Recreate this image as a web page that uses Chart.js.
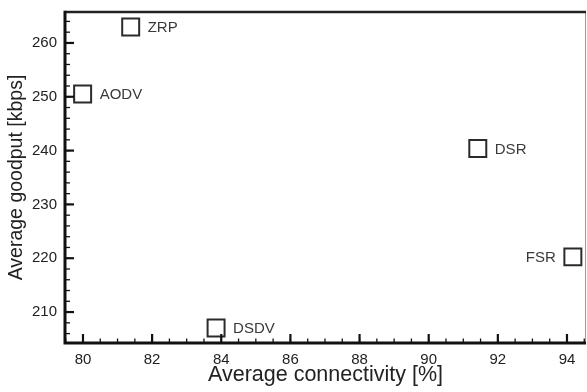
<!DOCTYPE html>
<html>
<head>
<meta charset="utf-8">
<script src="https://cdn.jsdelivr.net/npm/chart.js@4/dist/chart.umd.min.js"></script>
<style>
  html, body { margin: 0; padding: 0; background: #ffffff; }
  #wrap { width: 587px; height: 392px; }
</style>
</head>
<body>
<div id="wrap"><canvas id="c" width="587" height="392"></canvas></div>
<script>
// ---- data ----
const protocols    = ['ZRP', 'AODV', 'DSR', 'FSR', 'DSDV'];
const connectivity = [81.38, 79.99, 91.42, 94.17, 83.85];   // Average connectivity [%]
const goodput      = [262.97, 250.5, 240.4, 220.25, 207.05]; // Average goodput [kbps]
const xTickValues  = [80, 82, 84, 86, 88, 90, 92, 94];
const yTickValues  = [210, 220, 230, 240, 250, 260];

const FONT = '"Liberation Sans", Arial, Helvetica, sans-serif';

const points = protocols.map((p, i) => ({ x: connectivity[i], y: goodput[i] }));

// axis frame and inward tick marks, drawn from the chart's scales
const framePlugin = {
  id: 'frame',
  afterDraw(chart) {
    const { ctx, chartArea: a, scales } = chart;
    const xs = scales.x, ys = scales.y;
    ctx.save();
    // thin right border
    ctx.strokeStyle = '#9a9a9a';
    ctx.lineWidth = 1;
    ctx.beginPath(); ctx.moveTo(a.right - 0.5, a.top); ctx.lineTo(a.right - 0.5, a.bottom); ctx.stroke();
    // top border
    ctx.strokeStyle = '#222';
    ctx.lineWidth = 2.5;
    ctx.beginPath(); ctx.moveTo(a.left, a.top); ctx.lineTo(a.right, a.top); ctx.stroke();
    // minor ticks
    ctx.strokeStyle = '#111';
    ctx.lineWidth = 1.3;
    for (let v = Math.ceil(xs.min * 2) / 2; v <= xs.max; v += 0.5) {
      const px = xs.getPixelForValue(v);
      ctx.beginPath(); ctx.moveTo(px, a.bottom); ctx.lineTo(px, a.bottom - 4.5); ctx.stroke();
    }
    for (let v = Math.ceil(ys.min / 2) * 2; v <= ys.max; v += 2) {
      const py = ys.getPixelForValue(v);
      ctx.beginPath(); ctx.moveTo(a.left, py); ctx.lineTo(a.left + 5, py); ctx.stroke();
    }
    // major ticks
    ctx.lineWidth = 2.2;
    xTickValues.forEach(v => {
      const px = xs.getPixelForValue(v);
      ctx.beginPath(); ctx.moveTo(px, a.bottom); ctx.lineTo(px, a.bottom - 9); ctx.stroke();
    });
    yTickValues.forEach(v => {
      const py = ys.getPixelForValue(v);
      ctx.beginPath(); ctx.moveTo(a.left, py); ctx.lineTo(a.left + 9, py); ctx.stroke();
    });
    // left and bottom axis lines
    ctx.lineWidth = 3;
    ctx.beginPath();
    ctx.moveTo(a.left, a.top - 1.25);
    ctx.lineTo(a.left, a.bottom);
    ctx.lineTo(a.right, a.bottom);
    ctx.stroke();
    ctx.restore();
  }
};

// text labels beside each marker
const labelPlugin = {
  id: 'pointLabels',
  afterDatasetsDraw(chart, args, opts) {
    const { ctx } = chart;
    const meta = chart.getDatasetMeta(0);
    ctx.save();
    ctx.font = '15px ' + FONT;
    ctx.fillStyle = '#3a3a3a';
    ctx.textBaseline = 'middle';
    meta.data.forEach((el, i) => {
      const name = protocols[i];
      const left = (opts.leftSide || []).includes(name);
      ctx.textAlign = left ? 'right' : 'left';
      ctx.fillText(name, el.x + (left ? -opts.gap : opts.gap), el.y + 1);
    });
    ctx.restore();
  }
};

new Chart(document.getElementById('c'), {
  type: 'scatter',
  data: {
    datasets: [{
      data: points,
      pointStyle: 'rect',
      pointRadius: 12,
      pointHoverRadius: 12,
      borderWidth: 2,
      borderColor: '#2b2b2b',
      backgroundColor: 'rgba(255,255,255,1)',
      clip: false
    }]
  },
  options: {
    responsive: false,
    animation: false,
    events: [],
    layout: { autoPadding: false, padding: { top: 12, right: 1, left: 0, bottom: 0 } },
    plugins: {
      legend: { display: false },
      tooltip: { enabled: false },
      pointLabels: { gap: 17, leftSide: ['FSR'] }
    },
    scales: {
      x: {
        type: 'linear',
        min: 79.48,
        max: 94.55,
        afterBuildTicks: s => { s.ticks = xTickValues.map(v => ({ value: v })); },
        afterFit: s => { s.height = 49; s.paddingLeft = 0; s.paddingRight = 0; },
        grid: { display: false, drawTicks: false },
        border: { display: false },
        ticks: {
          padding: 8,
          color: '#222',
          font: { family: FONT, size: 15 },
          maxRotation: 0,
          autoSkip: false
        },
        title: {
          display: true,
          text: 'Average connectivity [%]',
          color: '#222',
          font: { family: FONT, size: 21.5 }
        }
      },
      y: {
        type: 'linear',
        min: 204.25,
        max: 265.75,
        afterBuildTicks: s => { s.ticks = yTickValues.map(v => ({ value: v })); },
        afterFit: s => { s.width = 65; s.paddingTop = 0; s.paddingBottom = 0; },
        grid: { display: false, drawTicks: false },
        border: { display: false },
        ticks: {
          padding: 8,
          color: '#222',
          font: { family: FONT, size: 15 },
          autoSkip: false
        },
        title: {
          display: true,
          text: 'Average goodput [kbps]',
          color: '#222',
          font: { family: FONT, size: 19.5 },
          padding: { top: 5, bottom: 4 }
        }
      }
    }
  },
  plugins: [framePlugin, labelPlugin]
});
</script>
</body>
</html>
